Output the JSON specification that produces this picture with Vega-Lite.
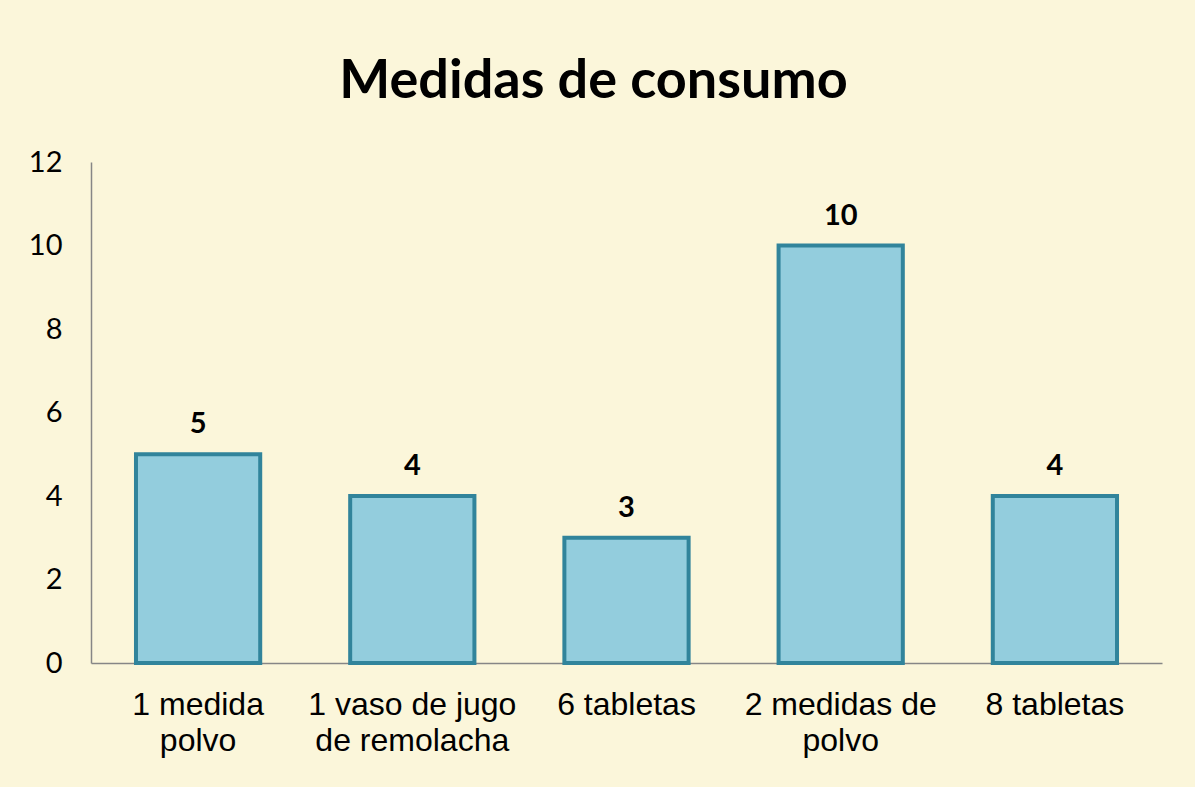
{
  "$schema": "https://vega.github.io/schema/vega-lite/v6.json",
  "autosize": {"type": "none"},
  "width": 1071,
  "height": 501,
  "padding": {"left": 91, "top": 162, "right": 33, "bottom": 124},
  "background": "#FBF6DA",
  "title": {
    "text": "Medidas de consumo",
    "font": "Lato",
    "fontSize": 54,
    "fontWeight": "bold",
    "color": "#000000",
    "anchor": "middle",
    "frame": "group",
    "dx": -33,
    "offset": -4,
    "baseline": "alphabetic"
  },
  "data": {
    "values": [
      {"medida": "1 medida|polvo", "n": 5},
      {"medida": "1 vaso de jugo|de remolacha", "n": 4},
      {"medida": "6 tabletas", "n": 3},
      {"medida": "2 medidas de|polvo", "n": 10},
      {"medida": "8 tabletas", "n": 4}
    ]
  },
  "config": {
    "view": {"stroke": null},
    "axis": {"grid": false, "ticks": false, "domainColor": "#868686", "domainWidth": 1.5, "title": null}
  },
  "encoding": {
    "x": {
      "field": "medida",
      "type": "nominal",
      "sort": null,
      "scale": {"paddingInner": 0.42, "paddingOuter": 0.21},
      "axis": {
        "labelAngle": 0,
        "labelExpr": "split(datum.label, '|')",
        "labelFont": "Liberation Sans",
        "labelFontSize": 32,
        "labelLineHeight": 36,
        "labelColor": "#000000",
        "labelPadding": 26,
        "labelBaseline": "top",
        "labelLimit": 0
      }
    },
    "y": {
      "field": "n",
      "type": "quantitative",
      "scale": {"domain": [0, 12], "nice": false},
      "axis": {
        "values": [0, 2, 4, 6, 8, 10, 12],
        "labelFont": "Lato",
        "labelFontSize": 29,
        "labelColor": "#000000",
        "labelPadding": 29
      }
    }
  },
  "layer": [
    {
      "mark": {"type": "bar", "fill": "#93CDDD", "stroke": "#31849B", "strokeWidth": 4}
    },
    {
      "mark": {"type": "text", "font": "Lato", "fontWeight": "bold", "fontSize": 29, "baseline": "alphabetic", "dy": -21, "color": "#000000"},
      "encoding": {"text": {"field": "n", "type": "quantitative"}}
    }
  ]
}
